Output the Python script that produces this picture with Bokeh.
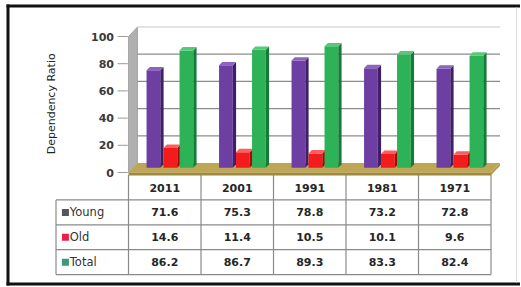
import math
from bokeh.plotting import figure
from bokeh.models import Range1d
from bokeh.core.properties import value
from bokeh.embed import file_html
from bokeh.resources import INLINE

# ---- data ----
years = ["2011", "2001", "1991", "1981", "1971"]
young = [71.6, 75.3, 78.8, 73.2, 72.8]
old = [14.6, 11.4, 10.5, 10.1, 9.6]
total = [86.2, 86.7, 89.3, 83.3, 82.4]
series_names = ["Young", "Old", "Total"]
yticks = [0, 20, 40, 60, 80, 100]
y_title = "Dependency Ratio"

# ---- style / geometry ----
W, H = 520, 286
X0_PX, X_PX = 128.0, 72.5        # page x of category 0 edge, px per category
Y0_PX, Y_PX = 172.0, 1.36        # page y of value 0, px per value unit
R0_PX, R_PX = 187.0, 24.88       # page y of table header row, px per row
FRONT = ["#6E3FA3", "#F21C1C", "#2DB257"]
SIDE = ["#3E1F68", "#A80808", "#167A38"]
TOP = ["#8C63BE", "#FF5C5C", "#55C97A"]
KEY = ["#55556A", "#E8204A", "#3C9A78"]
FONT = "DejaVu Sans"
DX, DY = 0.124, 7.0          # depth of back wall (category units, value units)
MID = 3.5                    # bars sit at mid depth
OFFS = [-0.251, -0.017, 0.204]
BW, SW, TDX, TDY = 0.235, 0.045, 0.045, 2.5

n = len(years)
series = [young, old, total]

p = figure(width=W, height=H,
           x_range=Range1d(-X0_PX / X_PX, (W - X0_PX) / X_PX),
           y_range=Range1d((Y0_PX - H) / Y_PX, Y0_PX / Y_PX),
           x_axis_location=None, y_axis_location=None,
           output_backend="svg", toolbar_location=None,
           min_border_left=0, min_border_right=0, min_border_top=0, min_border_bottom=0)
p.extra_y_ranges = {"tbl": Range1d((H - R0_PX) / R_PX, -R0_PX / R_PX),
                    "py": Range1d(H, 0)}
p.extra_x_ranges = {"px": Range1d(0, W)}
p.grid.visible = False
p.outline_line_color = None
p.background_fill_color = "white"
p.border_fill_color = "white"

# ---- frame border (decoration) ----
p.segment(x0=[7.5, 6, 6], y0=[4, 5.5, 283.5], x1=[7.5, W, W], y1=[285, 5.5, 283.5],
          x_range_name="px", y_range_name="py", line_color="#111111", line_width=3)
p.segment(x0=[516], y0=[7], x1=[516], y1=[282], x_range_name="px", y_range_name="py",
          line_color="#d9d9d9", line_width=1)

# ---- y axis (ticks, labels, title) ----
p.segment(x0=[-0.15] * len(yticks), y0=yticks, x1=[-0.01] * len(yticks), y1=yticks,
          line_color="#9a9a9a", line_width=1)
p.text(x=[-0.2] * len(yticks), y=yticks, text=[str(t) for t in yticks],
       text_align="right", text_baseline="middle", text_font=value(FONT),
       text_font_style="bold", text_font_size="11px", text_color="#3a3a3a")
p.text(x=[-1.06], y=[50.5], text=[y_title], angle=math.pi / 2, text_align="center",
       text_baseline="middle", text_font=value(FONT), text_font_size="11px",
       text_color="#222222")

# ---- 3D walls ----
p.patch([0, 0, DX, DX], [0, yticks[-1], yticks[-1] + DY, DY], fill_color="#B0B0B0",
        line_color="#9a9a9a", line_width=0.8)
for t in yticks[1:]:
    col = "#C8C8C8" if t == yticks[-1] else "#8C8C8C"
    p.segment(x0=[DX], y0=[t + DY], x1=[n + DX], y1=[t + DY], line_color=col, line_width=1.2)
p.patch([0, n, n + DX, DX], [0, 0, DY, DY], fill_color="#BFA655", line_color=None)
p.patch([0, n, n, 0], [-2, -2, 0, 0], fill_color="#A08A3A", line_color=None)
p.patch([n, n + DX, n + DX, n], [-2, DY - 2, DY, 0], fill_color="#B09A48", line_color=None)
p.segment(x0=[0], y0=[-2.2], x1=[n], y1=[-2.2], line_color="#C8D060", line_width=1)

# ---- bars ----
for s, vals in enumerate(series):
    fx, fy, sx, sy, tx, ty = [], [], [], [], [], []
    for i, v in enumerate(vals):
        l = i + 0.5 + OFFS[s]
        r = l + BW - SW
        b = MID
        t = v + MID
        fx.append([l, r, r, l]); fy.append([b, b, t, t])
        sx.append([r, l + BW, l + BW, r]); sy.append([b, b + TDY, t + TDY, t])
        tx.append([l, r, l + BW, l + TDX]); ty.append([t, t, t + TDY, t + TDY])
    p.patches(fx, fy, fill_color=FRONT[s], line_color=None)
    p.patches(sx, sy, fill_color=SIDE[s], line_color=None)
    p.patches(tx, ty, fill_color=TOP[s], line_color=None)

# ---- data table ----
LC = "#8A8A8A"
p.segment(x0=list(range(n + 1)), y0=[-0.5] * (n + 1), x1=list(range(n + 1)), y1=[3.5] * (n + 1),
          y_range_name="tbl", line_color=LC, line_width=1.2)
p.segment(x0=[-1], y0=[0.5], x1=[-1], y1=[3.5], y_range_name="tbl", line_color=LC, line_width=1.2)
p.segment(x0=[-1] * 4, y0=[0.5, 1.5, 2.5, 3.5], x1=[n] * 4, y1=[0.5, 1.5, 2.5, 3.5],
          y_range_name="tbl", line_color=LC, line_width=1.2)

cx = [i + 0.5 for i in range(n)]
p.text(x=cx, y=[0] * n, text=years, y_range_name="tbl", text_align="center",
       text_baseline="middle", text_font=value(FONT), text_font_style="bold",
       text_font_size="11px", text_color="#262626")
for k, vals in enumerate(series):
    p.text(x=cx, y=[k + 1] * n, text=[f"{v:.1f}" for v in vals], y_range_name="tbl",
           text_align="center", text_baseline="middle", text_font=value(FONT),
           text_font_style="bold", text_font_size="11px", text_color="#262626")
p.scatter(x=[-0.87] * 3, y=[1, 2, 3], y_range_name="tbl", marker="square", size=7,
          fill_color=KEY, line_color=None)
p.text(x=[-0.81] * 3, y=[1, 2, 3], text=series_names, y_range_name="tbl", text_align="left",
       text_baseline="middle", text_font=value(FONT), text_font_size="11.5px",
       text_color="#333333")

open("out.html", "w").write(file_html(p, INLINE))
